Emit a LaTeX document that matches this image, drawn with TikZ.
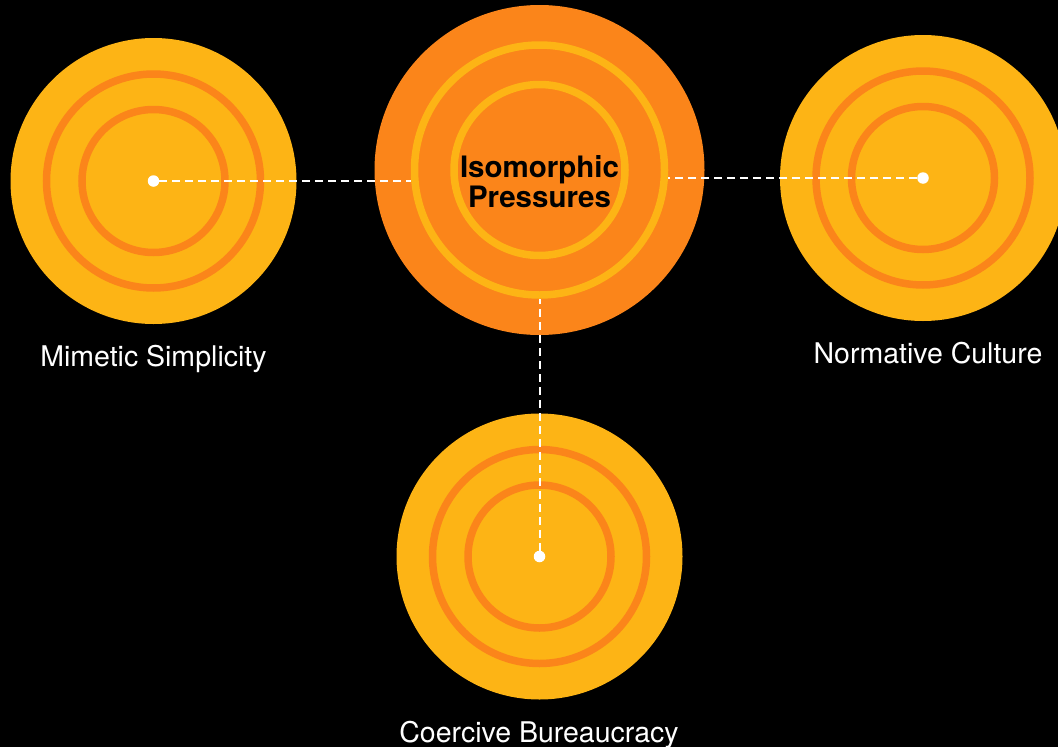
\documentclass[tikz,border=0pt]{standalone}
\usepackage{fontspec}
\setmainfont{TeX Gyre Heros}
\definecolor{amber}{RGB}{253,180,21}
\definecolor{tangerine}{RGB}{251,133,26}
\begin{document}
\begin{tikzpicture}[x=1pt,y=-1pt,
        disc/.style={circle,inner sep=0pt,fill=amber,minimum size=286pt},
        ring/.style={circle,inner sep=0pt,draw=tangerine,line width=7.5pt,minimum size=#1},
        dot/.style={circle,inner sep=0pt,fill=white,minimum size=11.5pt},
        dashline/.style={white,line width=2pt,dash pattern=on 8pt off 5pt},
        capt/.style={white,anchor=base,font=\fontsize{28.5}{30}\selectfont}]
        % фон
        \useasboundingbox (0,0) rectangle (1058,747);
        \clip (0,0) rectangle (1058,747);
        \fill[black] (0,0) rectangle (1058,747);
        % центр
        \node[disc,fill=tangerine,minimum size=330pt] (press) at (539.5,170) {};
        \node[ring=250pt,draw=amber] (pring) at (press) {};
        \node[ring=171pt,draw=amber] (pcore) at (press) {};
        \node[align=center,font=\bfseries\fontsize{29.5}{30}\selectfont] (ptext) at (539.5,182) {Isomorphic\\Pressures};
        % слева
        \node[disc] (mim) at (153.5,181) {};
        \node[ring=214pt] (mring) at (mim) {};
        \node[ring=143pt] (mcore) at (mim) {};
        \node[dot] (mdot) at (mim) {};
        % справа
        \node[disc] (norm) at (923,178) {};
        \node[ring=214pt] (nring) at (norm) {};
        \node[ring=143pt] (ncore) at (norm) {};
        \node[dot] (ndot) at (norm) {};
        % снизу
        \node[disc] (coer) at (539.5,556.5) {};
        \node[ring=214pt] (cring) at (coer) {};
        \node[ring=143pt] (ccore) at (coer) {};
        \node[dot] (cdot) at (coer) {};
        % связи
        \draw[dashline] (mdot) -- (mdot -| pring.west);
        \draw[dashline] (ndot) -- (ndot -| pring.east);
        \draw[dashline] (cdot) -- (cdot |- pring.south);
        % подписи
        \node[capt] (mlab) at (153.5,366) {Mimetic Simplicity};
        \node[capt] (nlab) at (928,363) {Normative Culture};
        \node[capt] (clab) at (539,742) {Coercive Bureaucracy};
\end{tikzpicture}
\end{document}
